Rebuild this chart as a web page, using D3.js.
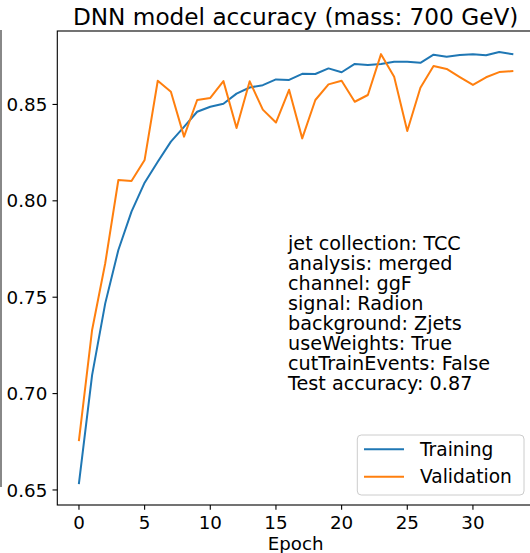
<!DOCTYPE html>
<html>
<head>
<meta charset="utf-8">
<script src="https://cdn.jsdelivr.net/npm/d3@7"></script>
<style>
  body { margin: 0; background: #fff; }
  svg { display: block; }
  text { font-family: "DejaVu Sans", sans-serif; fill: #000; }
</style>
</head>
<body>
<div id="chart"></div>
<script>
// epochs and accuracies
var epochs = [0,1,2,3,4,5,6,7,8,9,10,11,12,13,14,15,16,17,18,19,20,21,22,23,24,25,26,27,28,29,30,31,32,33];
var training = [0.6535, 0.7096, 0.7468, 0.7745, 0.7944, 0.8094, 0.8203, 0.8307, 0.8384, 0.8462,
                0.8488, 0.8504, 0.8556, 0.8588, 0.8600, 0.8630, 0.8627, 0.8659, 0.8658, 0.8687,
                0.8667, 0.8710, 0.8704, 0.8710, 0.8722, 0.8722, 0.8716, 0.8758, 0.8748, 0.8756,
                0.8761, 0.8755, 0.8772, 0.8761];
var validation = [0.6759, 0.7330, 0.7676, 0.8108, 0.8103, 0.8212, 0.8623, 0.8566, 0.8333, 0.8523,
                  0.8534, 0.8621, 0.8378, 0.8620, 0.8473, 0.8406, 0.8576, 0.8324, 0.8523, 0.8604,
                  0.8623, 0.8514, 0.8549, 0.8761, 0.8644, 0.8362, 0.8587, 0.8699, 0.8684, 0.8642,
                  0.8601, 0.8641, 0.8668, 0.8673];
var xTicks = [0, 5, 10, 15, 20, 25, 30];
var yTicks = [0.65, 0.70, 0.75, 0.80, 0.85];
var seriesNames = ["Training", "Validation"];
var seriesColors = ["#1f77b4", "#ff7f0e"];
var infoLines = ["jet collection: TCC", "analysis: merged", "channel: ggF", "signal: Radion",
                 "background: Zjets", "useWeights: True", "cutTrainEvents: False", "Test accuracy: 0.87"];
var titleText = "DNN model accuracy (mass: 700 GeV)";

var W = 530, H = 553;
// axes box (right edge falls just outside the picture)
var axL = 57.3, axR = 534, axT = 31, axB = 505;

var svg = d3.select("#chart").append("svg")
  .attr("width", W)
  .attr("height", H);

var x = d3.scaleLinear().domain([-1.65, 34.65]).range([axL, axR]);
var y = d3.scaleLinear().domain([0.6422, 0.8881]).range([axB, axT]);

function label(px, py, str, size, anchor)
{
  return svg.append("text")
    .attr("x", px)
    .attr("y", py)
    .attr("text-anchor", anchor || "start")
    .style("font-size", size + "px")
    .text(str);
}

// leftover spine of a neighbour plot at the very left
svg.append("line")
  .attr("x1", 1).attr("x2", 1).attr("y1", 30).attr("y2", 487)
  .attr("stroke", "#888").attr("stroke-width", 2);

// lines
var line = d3.line()
  .x(function(d, i) { return x(epochs[i]); })
  .y(function(d) { return y(d); });

[training, validation].forEach(function(s, k) {
  svg.append("path")
    .datum(s)
    .attr("fill", "none")
    .attr("stroke", seriesColors[k])
    .attr("stroke-width", 2)
    .attr("stroke-linejoin", "round")
    .attr("stroke-linecap", "square")
    .attr("d", line);
});

// spines
svg.append("rect")
  .attr("x", axL).attr("y", axT)
  .attr("width", axR - axL).attr("height", axB - axT)
  .attr("fill", "none").attr("stroke", "#000").attr("stroke-width", 1.1);

// ticks
xTicks.forEach(function(t) {
  svg.append("line")
    .attr("x1", x(t)).attr("x2", x(t)).attr("y1", axB).attr("y2", axB + 4.8)
    .attr("stroke", "#000").attr("stroke-width", 1.1);
  label(x(t), 528.5, t, 18.3, "middle");
});
yTicks.forEach(function(t) {
  svg.append("line")
    .attr("x1", axL - 4.8).attr("x2", axL).attr("y1", y(t)).attr("y2", y(t))
    .attr("stroke", "#000").attr("stroke-width", 1.1);
  label(axL - 10, y(t) + 6.6, t.toFixed(2), 18.3, "end");
});

label((axL + axR) / 2, 550, "Epoch", 18.2, "middle");
label((axL + axR) / 2, 25, titleText, 23.2, "middle");

// info text block
infoLines.forEach(function(s, i) {
  label(288, 250 + i * 20, s, 19.2, "start");
});

// legend
var lg = { x: 357.3, y: 435, w: 166.7, h: 60 };
svg.append("rect")
  .attr("x", lg.x).attr("y", lg.y).attr("width", lg.w).attr("height", lg.h)
  .attr("rx", 4).attr("ry", 4)
  .attr("fill", "#fff").attr("fill-opacity", 0.8)
  .attr("stroke", "#cccccc").attr("stroke-width", 1);
seriesNames.forEach(function(n, i) {
  var ly = 449.3 + i * 27.4;
  svg.append("line")
    .attr("x1", 364).attr("x2", 404).attr("y1", ly).attr("y2", ly)
    .attr("stroke", seriesColors[i]).attr("stroke-width", 2);
  label(420, ly + 6.7, n, 18.6, "start");
});
</script>
</body>
</html>
